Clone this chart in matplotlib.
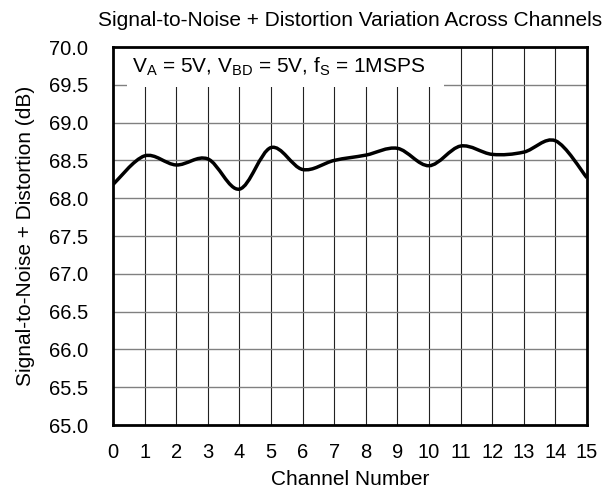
import matplotlib
matplotlib.use("Agg")
import matplotlib.pyplot as plt
from matplotlib.path import Path
from matplotlib.patches import PathPatch, Rectangle
import numpy as np

plt.rcParams['font.family'] = ['Liberation Sans', 'DejaVu Sans']
plt.rcParams['mathtext.fontset'] = 'custom'
plt.rcParams['mathtext.rm'] = 'Liberation Sans'
plt.rcParams['mathtext.it'] = 'Liberation Sans'

# --- SINAD per channel (dB) ---
channels = np.arange(16)
sinad = [68.18, 68.56, 68.44, 68.52, 68.12, 68.67, 68.38, 68.50,
         68.57, 68.66, 68.43, 68.69, 68.58, 68.61, 68.76, 68.27]

y_ticks = np.arange(65.0, 70.01, 0.5)


def smooth_path(x, y, tension=1 / 6):
    # Excel-style smoothed line: cubic bezier segments through every point
    x = np.asarray(x, float)
    y = np.asarray(y, float)
    px = np.concatenate([[x[0]], x, [x[-1]]])
    py = np.concatenate([[y[0]], y, [y[-1]]])
    verts = [(x[0], y[0])]
    codes = [Path.MOVETO]
    for i in range(len(x) - 1):
        c1 = (x[i] + (px[i + 2] - px[i]) * tension, y[i] + (py[i + 2] - py[i]) * tension)
        c2 = (x[i + 1] - (px[i + 3] - px[i + 1]) * tension, y[i + 1] - (py[i + 3] - py[i + 1]) * tension)
        verts += [c1, c2, (x[i + 1], y[i + 1])]
        codes += [Path.CURVE4] * 3
    return Path(verts, codes)


fig = plt.figure(figsize=(6.14, 4.95), dpi=100)
ax = fig.add_axes([0.184, 0.1414, 0.772, 0.7636])

ax.add_patch(PathPatch(smooth_path(channels, sinad), facecolor='none',
                       edgecolor='black', lw=2.5, zorder=4, capstyle='butt'))

ax.set_xlim(0, 15)
ax.set_ylim(65, 70)
ax.set_xticks(channels)
ax.set_yticks(y_ticks)
ax.set_yticklabels([f'{v:.1f}' for v in y_ticks])
ax.tick_params(length=0, labelsize=14.5)
ax.tick_params(axis='y', pad=18)
ax.tick_params(axis='x', pad=13)

# grid: dark verticals, gray horizontals
for c in channels[1:-1]:
    ax.axvline(c, color='#222222', lw=0.8, zorder=1)
for v in y_ticks[1:-1]:
    ax.axhline(v, color='#808080', lw=1.0, zorder=1)

# white label box sitting over the grid
ax.add_patch(Rectangle((0.03, 0.894), 0.668, 0.11, transform=ax.transAxes,
                       facecolor='white', edgecolor='none', zorder=2))
ax.text(0.041, 0.947, r'V$_\mathrm{A}$ = 5V, V$_\mathrm{BD}$ = 5V, f$_\mathrm{S}$ = 1MSPS',
        transform=ax.transAxes, fontsize=15, va='center', ha='left', zorder=3)

for s in ax.spines.values():
    s.set_linewidth(2.0)
    s.set_zorder(5)

ax.set_title('Signal-to-Noise + Distortion Variation Across Channels', fontsize=15, pad=15)
ax.set_xlabel('Channel Number', fontsize=15, labelpad=6)
ax.set_ylabel('Signal-to-Noise + Distortion (dB)', fontsize=15, labelpad=10)

fig.savefig('out.png', dpi=100)
